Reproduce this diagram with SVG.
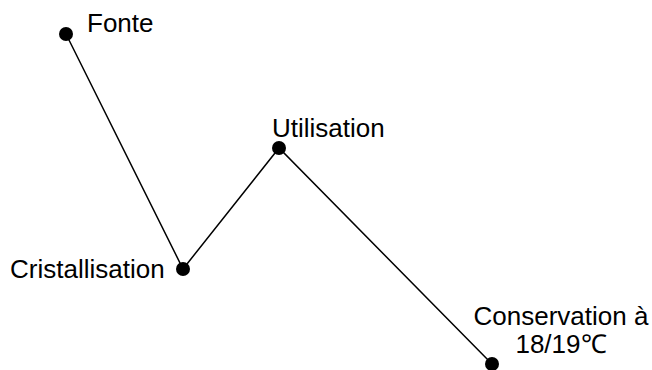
<svg xmlns="http://www.w3.org/2000/svg" width="652" height="370" viewBox="0 0 652 370">
<style>
.lbl{font-family:"Liberation Sans",Arial,sans-serif;font-size:26px;fill:#000}
.dot{fill:#000}
.edge{stroke:#000;stroke-width:1.5;fill:none}
</style>
<rect width="652" height="370" fill="#fff"/>
<g id="connectors">
<polyline class="edge" points="66,34 183,269 279,148 492,364"/>
</g>
<g id="fonte"><circle class="dot" cx="66" cy="34" r="7"/><text class="lbl" x="87" y="32">Fonte</text></g>
<g id="cristallisation"><circle class="dot" cx="183" cy="269" r="7"/><text class="lbl" x="10" y="278">Cristallisation</text></g>
<g id="utilisation"><circle class="dot" cx="279" cy="148" r="7"/><text class="lbl" x="272" y="137">Utilisation</text></g>
<g id="conservation"><circle class="dot" cx="492" cy="364" r="7"/><text class="lbl" x="561" y="325" text-anchor="middle">Conservation à</text><text class="lbl" x="561" y="353" text-anchor="middle">18/19℃</text></g>
</svg>
